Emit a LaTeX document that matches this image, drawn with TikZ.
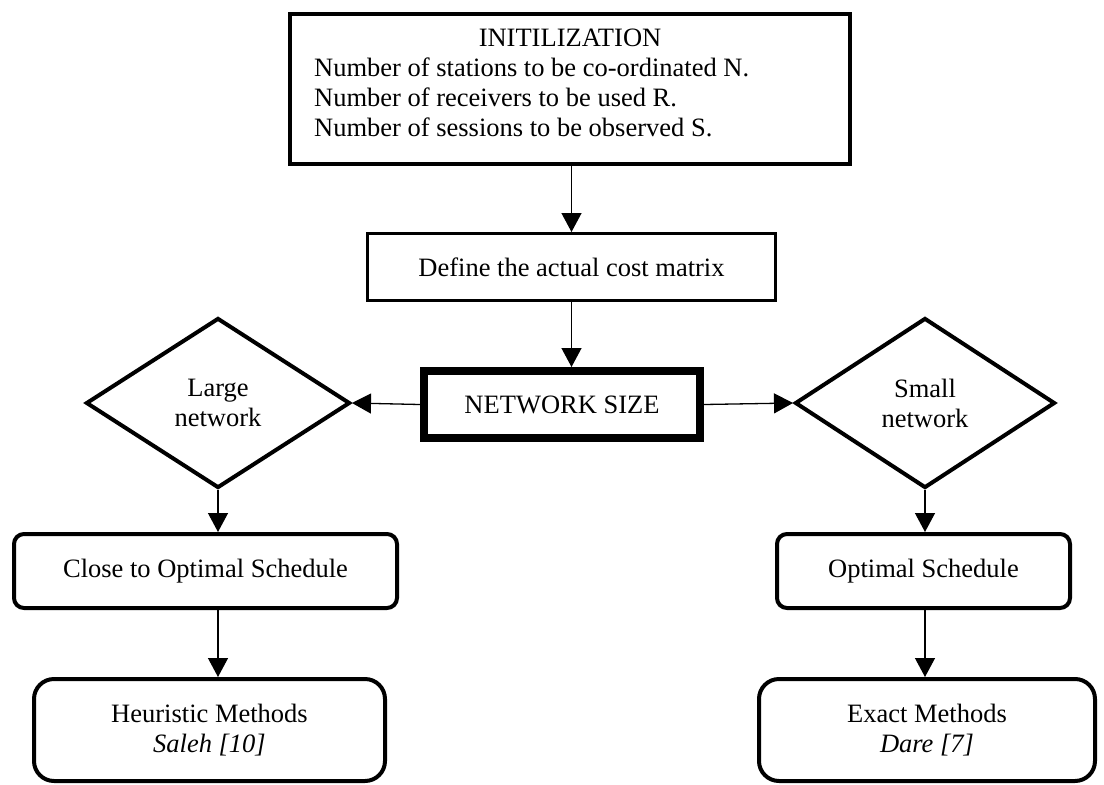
\documentclass[tikz,border=0pt]{standalone}
\usepackage{fontspec}
\setmainfont{Liberation Serif}
\usetikzlibrary{shapes.geometric,arrows.meta}

\tikzset{
  flowbox/.style={draw,line width=3pt,inner sep=0pt,align=center},
  roundbox/.style={flowbox,line width=4pt,rounded corners=10pt},
  decision/.style={draw,diamond,line width=4pt,inner sep=0pt,align=center},
  flowarrow/.style={line width=1.3pt,-{Triangle[length=19pt,width=20pt]}}
}

\begin{document}
\begin{tikzpicture}[x=1pt,y=-1pt,font=\fontsize{26.5}{30}\selectfont]
  \useasboundingbox (0,0) rectangle (1104,785);
  % initialisation
  \node[flowbox,line width=4pt,minimum width=560pt,minimum height=150pt] (init) at (570,88.5) {};
  \node[anchor=base] (inittitle) at (570,46) {INITILIZATION};
  \node[anchor=base west,inner sep=0pt] (initn) at (314,76) {Number of stations to be co-ordinated N.};
  \node[anchor=base west,inner sep=0pt] (initr) at (314,106) {Number of receivers to be used R.};
  \node[anchor=base west,inner sep=0pt] (inits) at (314,136) {Number of sessions to be observed S.};
  % cost matrix and size test
  \node[flowbox,minimum width=408pt,minimum height=67pt] (define) at (571.5,267) {Define the actual cost matrix};
  \node[flowbox,line width=8pt,minimum width=276pt,minimum height=67pt] (network) at (562,404.5) {NETWORK SIZE};
  \node[decision,minimum width=264pt,minimum height=170pt] (large) at (218,403) {Large\\network};
  \node[decision,minimum width=260pt,minimum height=170pt] (small) at (925,403) {Small\\network};
  % schedules
  \node[roundbox,minimum width=383pt,minimum height=74pt] (close) at (205.5,571) {Close to Optimal Schedule};
  \node[roundbox,minimum width=293pt,minimum height=74pt] (optimal) at (923.5,571) {Optimal Schedule};
  \node[roundbox,rounded corners=20pt,minimum width=351pt,minimum height=102pt] (heuristic) at (209.5,730) {Heuristic Methods\\\textit{Saleh [10]}};
  \node[roundbox,rounded corners=20pt,minimum width=336pt,minimum height=102pt] (exact) at (927,730) {Exact Methods\\\textit{Dare [7]}};

  \draw[flowarrow] (init.south -| define.north) -- (define.north);
  \draw[flowarrow] (define.south) -- (define.south |- network.north);
  \draw[flowarrow] (network.west) -- (large.east);
  \draw[flowarrow] (network.east) -- (small.west);
  \draw[flowarrow] (large.south) -- (large.south |- close.north);
  \draw[flowarrow] (close.south -| large.south) -- (heuristic.north -| large.south);
  \draw[flowarrow] (small.south) -- (small.south |- optimal.north);
  \draw[flowarrow] (optimal.south -| small.south) -- (exact.north -| small.south);
\end{tikzpicture}
\end{document}
